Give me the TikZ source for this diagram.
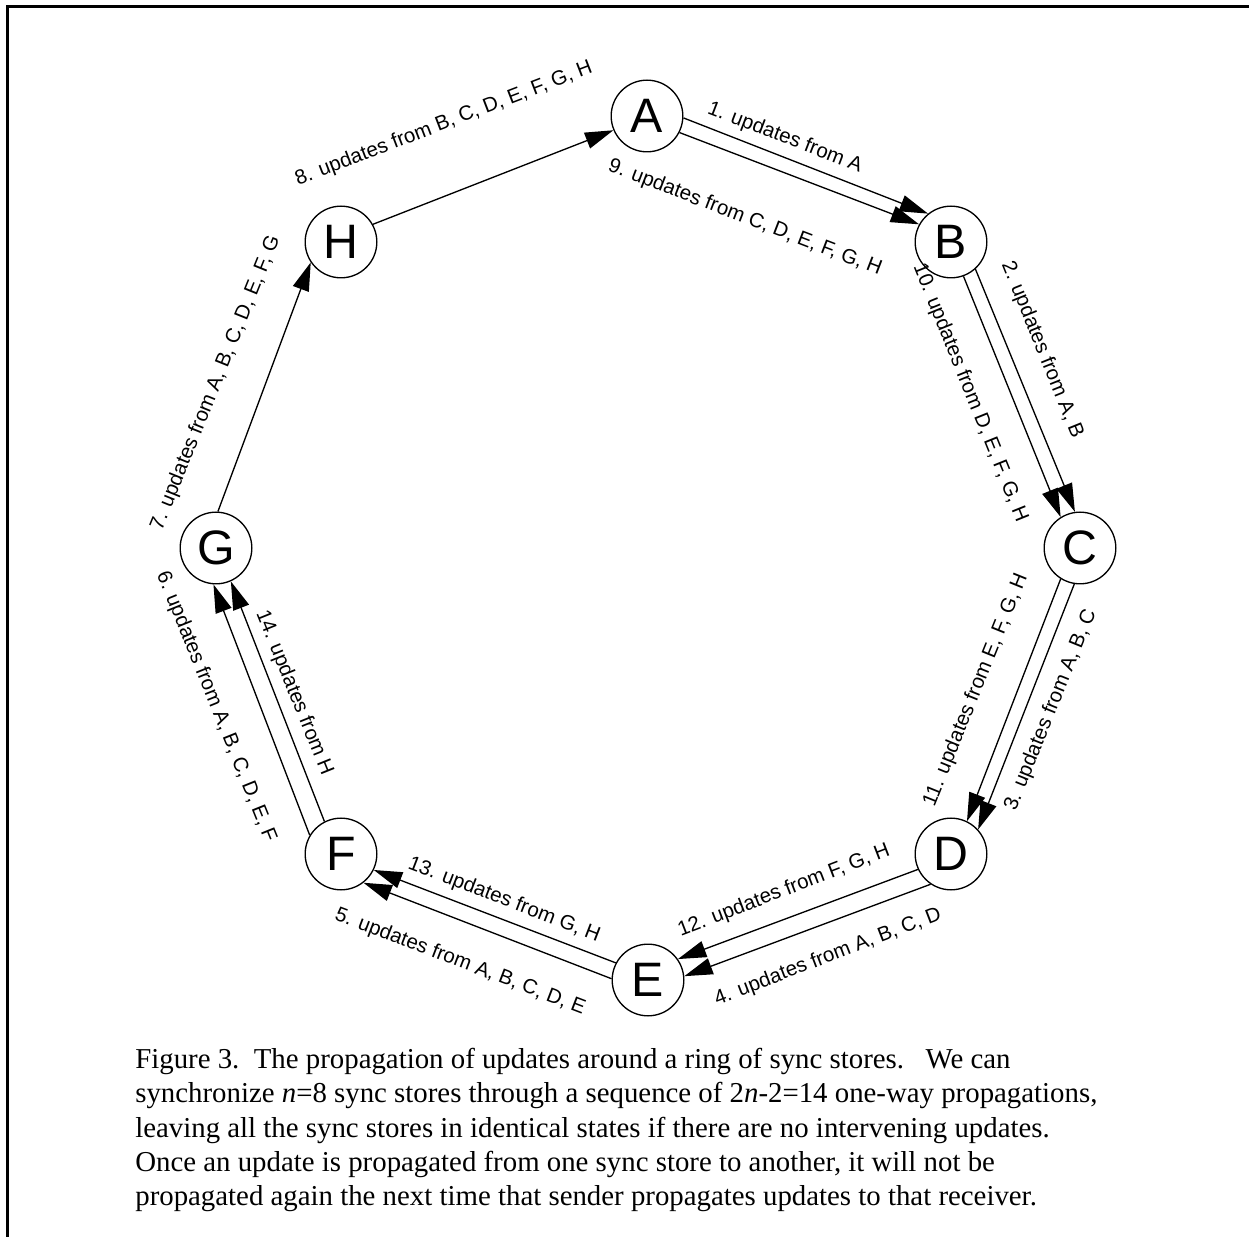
\documentclass[tikz,border=0pt]{standalone}
\usepackage{fontspec}
\setmainfont{Liberation Serif}
\newfontfamily\arialfont{Liberation Sans}
\usetikzlibrary{arrows.meta}

\begin{document}
\begin{tikzpicture}[
    x=0.6pt, y=-0.6pt,
    store/.style={circle, draw, line width=0.8pt, minimum size=43pt, inner sep=0pt, font=\arialfont\fontsize{29}{29}\selectfont},
    lbl/.style={inner sep=0pt, font=\arialfont\fontsize{12.3}{14}\selectfont},
    flow/.style={draw, line width=0.8pt, -{Triangle[length=17pt, width=10pt]}},
    frame/.style={line width=1.8pt}
]
\useasboundingbox (0,0) rectangle (1249,1237);

% Frame (top and left edge only)
\draw[frame] (7.5,1237) -- (7.5,6.5) -- (1249,6.5);

% Ring of sync stores
\node[store] (A) at (647,116) {A};
\node[store] (B) at (951,242) {B};
\node[store] (C) at (1080,548) {C};
\node[store] (D) at (951,854) {D};
\node[store] (E) at (648,980) {E};
\node[store] (F) at (341,854) {F};
\node[store] (G) at (216,548) {G};
\node[store] (H) at (341,242) {H};

% A to B
\draw[flow] (A.-3) -- (B.129);
\draw[flow] (A.-27) -- (B.151);
\node[lbl, rotate=-21] (l1) at (785,138) {1. updates from A};
\node[lbl, rotate=-21] (l9) at (745,218) {9. updates from C, D, E, F, G, H};

% B to C
\draw[flow] (B.-48) -- (C.98);
\draw[flow] (B.-70) -- (C.122);
\node[lbl, rotate=-68] (l2) at (1042,350) {2. updates from A, B};
\node[lbl, rotate=-68] (l10) at (970,393) {10. updates from D, E, F, G, H};

% C to D
\draw[flow] (C.-99) -- (D.42);
\draw[flow] (C.-122) -- (D.64);
\node[lbl, rotate=68] (l3) at (1051,710) {3. updates from A, B, C};
\node[lbl, rotate=68] (l11) at (976,690) {11. updates from E, F, G, H};

% D to E
\draw[flow] (D.-124) -- (E.6);
\draw[flow] (D.-155) -- (E.35);
\node[lbl, rotate=21] (l4) at (828,957) {4. updates from A, B, C, D};
\node[lbl, rotate=21] (l12) at (784,891) {12. updates from F, G, H};

% E to F
\draw[flow] (E.178) -- (F.-52);
\draw[flow] (E.152) -- (F.-26);
\node[lbl, rotate=-21] (l5) at (460,962) {5. updates from A, B, C, D, E};
\node[lbl, rotate=-21] (l13) at (504,900) {13. updates from G, H};

% F to G
\draw[flow] (F.149) -- (G.-94);
\draw[flow] (F.117) -- (G.-66);
\node[lbl, rotate=-68] (l6) at (216,707) {6. updates from A, B, C, D, E, F};
\node[lbl, rotate=-68] (l14) at (294,693) {14. updates from H};

% G to H, H to A
\draw[flow] (G.87) -- (H.-146);
\node[lbl, rotate=68] (l7) at (216,383) {7. updates from A, B, C, D, E, F, G};
\draw[flow] (H.29) -- (A.-157);
\node[lbl, rotate=21] (l8) at (444,124) {8. updates from B, C, D, E, F, G, H};

% Caption
\node[anchor=north west, inner sep=0pt, align=left, font=\fontsize{17.3}{20.6}\selectfont] (cap) at (135,1048) {Figure 3.\ \ The propagation of updates around a ring of sync stores.\ \ \ We can\\
synchronize \textit{n}=8 sync stores through a sequence of 2\textit{n}-2=14 one-way propagations,\\
leaving all the sync stores in identical states if there are no intervening updates.\\
Once an update is propagated from one sync store to another, it will not be\\
propagated again the next time that sender propagates updates to that receiver.};

\end{tikzpicture}
\end{document}
